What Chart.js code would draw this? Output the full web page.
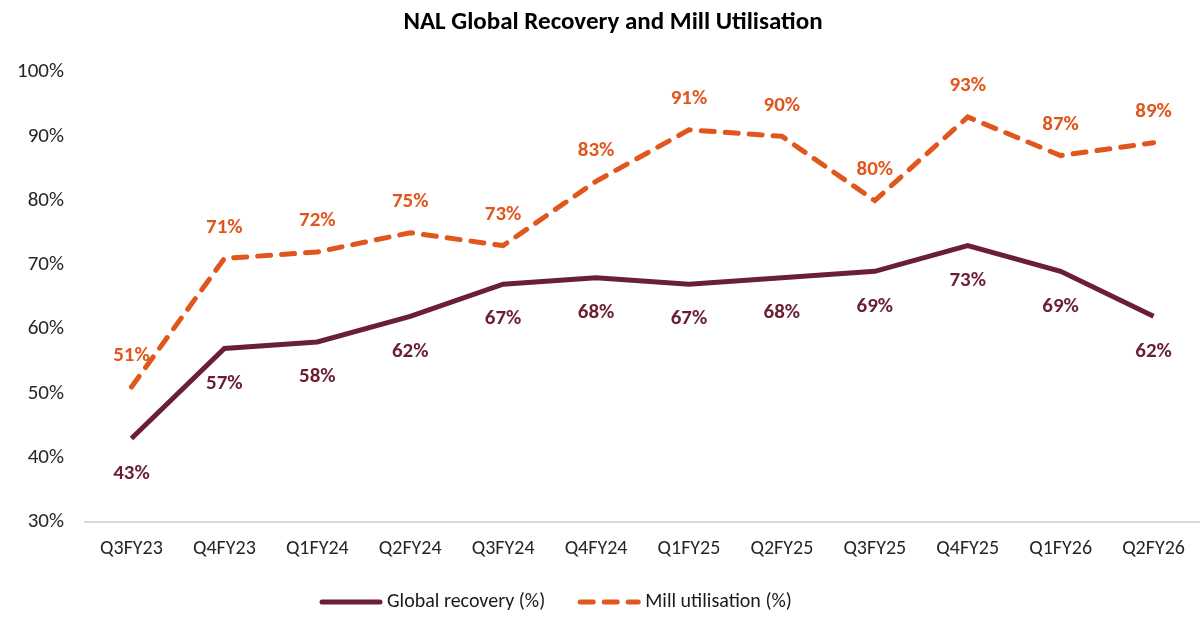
<!DOCTYPE html>
<html>
<head>
<meta charset="utf-8">
<script src="https://cdn.jsdelivr.net/npm/chart.js@4.4.1/dist/chart.umd.min.js"></script>
<style>
  html, body { margin: 0; padding: 0; background: #fff; }
  #wrap { width: 1200px; height: 630px; position: relative; }
</style>
</head>
<body>
<div id="wrap"><canvas id="nalChart" width="1200" height="630"></canvas></div>
<script>
const quarters = ['Q3FY23', 'Q4FY23', 'Q1FY24', 'Q2FY24', 'Q3FY24', 'Q4FY24', 'Q1FY25', 'Q2FY25', 'Q3FY25', 'Q4FY25', 'Q1FY26', 'Q2FY26'];
const globalRecovery = [43, 57, 58, 62, 67, 68, 67, 68, 69, 73, 69, 62];
const millUtilisation = [51, 71, 72, 75, 73, 83, 91, 90, 80, 93, 87, 89];
const yTicks = [30, 40, 50, 60, 70, 80, 90, 100];

const FONT = 'Carlito, Lato, "Liberation Sans", sans-serif';
const maroon = '#6B1F33';
const orange = '#E0561C';

// labels above/below each point, and the title + legend
const labelPlugin = {
    id: 'labelPlugin',
    afterDatasetsDraw(chart) {
        const ctx = chart.ctx;
        ctx.save();
        ctx.font = 'bold 21px ' + FONT;
        ctx.textAlign = 'center';
        ctx.textBaseline = 'middle';
        chart.data.datasets.forEach(function (ds, i) {
            const meta = chart.getDatasetMeta(i);
            meta.data.forEach(function (pt, j) {
                const dy = ds.labelBelow ? 35 : -31;
                ctx.fillStyle = ds.borderColor;
                ctx.fillText(ds.data[j] + '%', pt.x, pt.y + dy);
            });
        });
        ctx.restore();
    },
    afterDraw(chart) {
        const ctx = chart.ctx;
        ctx.save();
        ctx.fillStyle = '#000';
        ctx.font = 'bold 25px ' + FONT;
        ctx.textAlign = 'center';
        ctx.textBaseline = 'middle';
        ctx.fillText('NAL Global Recovery and Mill Utilisation', 613, 23);

        // legend
        ctx.font = '20px ' + FONT;
        ctx.textAlign = 'left';
        let x = 322;
        const y = 602;
        chart.data.datasets.forEach(function (ds) {
            ctx.strokeStyle = ds.borderColor;
            ctx.lineWidth = 5;
            ctx.lineCap = 'round';
            ctx.setLineDash(ds.borderDash || []);
            ctx.beginPath();
            ctx.moveTo(x, y);
            ctx.lineTo(x + 58, y);
            ctx.stroke();
            ctx.setLineDash([]);
            ctx.fillStyle = '#1a1a1a';
            ctx.fillText(ds.label, x + 65, y);
            x += 65 + ctx.measureText(ds.label).width + 35;
        });
        ctx.restore();
    }
};

const ctx = document.getElementById('nalChart').getContext('2d');
const nalChart = new Chart(ctx, {
    type: 'line',
    data: {
        labels: quarters,
        datasets: [{
            label: 'Global recovery (%)',
            data: globalRecovery,
            borderColor: maroon,
            backgroundColor: maroon,
            borderWidth: 5,
            pointRadius: 0,
            tension: 0,
            labelBelow: true
        }, {
            label: 'Mill utilisation (%)',
            data: millUtilisation,
            borderColor: orange,
            backgroundColor: orange,
            borderWidth: 5,
            borderDash: [13, 11],
            borderCapStyle: 'round',
            pointRadius: 0,
            tension: 0,
            labelBelow: false
        }]
    },
    options: {
        responsive: false,
        animation: false,
        layout: { padding: { top: 72, right: 0, bottom: 0, left: 0 } },
        plugins: {
            legend: { display: false },
            title: { display: false },
            tooltip: { enabled: false }
        },
        scales: {
            x: {
                offset: true,
                grid: { display: false, drawTicks: false },
                border: { display: true, color: '#d9d9d9', width: 2 },
                ticks: { padding: 15, color: '#262626', font: { family: FONT, size: 20 }, maxRotation: 0, autoSkip: false },
                afterFit: function (scale) { scale.height = 108; }
            },
            y: {
                min: 30,
                max: 100,
                afterBuildTicks: function (scale) { scale.ticks = yTicks.map(function (v) { return { value: v }; }); },
                grid: { display: false, drawTicks: false },
                border: { display: false },
                ticks: {
                    padding: 21,
                    color: '#262626',
                    font: { family: FONT, size: 21 },
                    callback: function (v) { return v + '%'; }
                },
                afterFit: function (scale) { scale.width = 85; }
            }
        }
    },
    plugins: [labelPlugin]
});
</script>
</body>
</html>
